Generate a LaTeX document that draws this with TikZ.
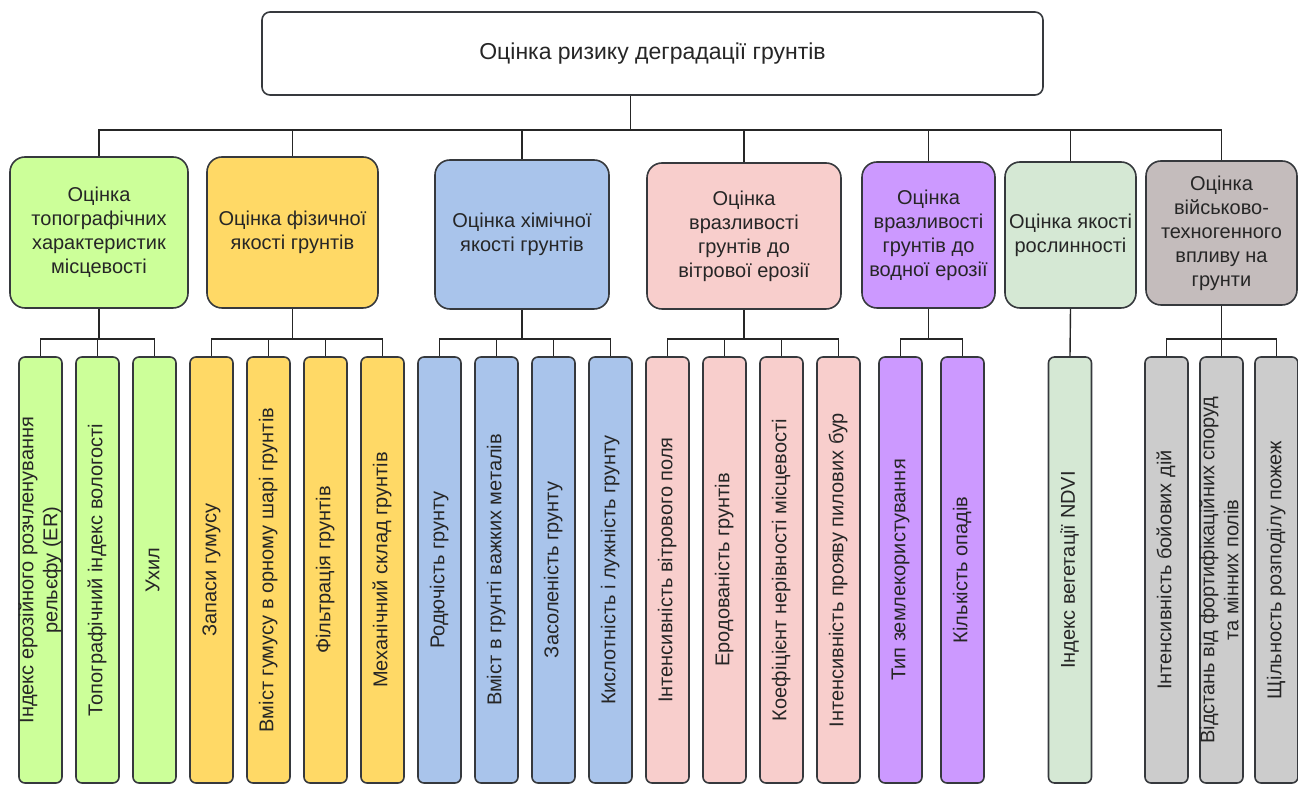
\documentclass[tikz,border=0pt]{standalone}
\usepackage{fontspec}
\setmainfont{Liberation Sans}
\usepackage{graphicx}
\usetikzlibrary{positioning}

\definecolor{topogreen}{RGB}{204,255,153}
\definecolor{physyellow}{RGB}{255,217,102}
\definecolor{chemblue}{RGB}{169,196,235}
\definecolor{windpink}{RGB}{248,206,204}
\definecolor{waterviolet}{RGB}{204,153,255}
\definecolor{vegmint}{RGB}{213,232,212}
\definecolor{milgrey}{RGB}{196,188,188}
\definecolor{factgrey}{RGB}{204,204,204}
\definecolor{edgegrey}{RGB}{54,57,61}

% vertical text for the factor columns
\newcommand{\vtext}[1]{\makebox[0pt]{\rotatebox{90}{\begin{tabular}{@{}c@{}}#1\end{tabular}}}}

\tikzset{
    rootbox/.style={
        draw=edgegrey, line width=0.8pt, rounded corners=4pt, fill=white,
        minimum width=390.5pt, minimum height=41.5pt,
        font=\fontsize{11.5}{14}\selectfont
    },
    critbox/.style={ % #1 = fill colour
        draw=edgegrey, line width=0.8pt, rounded corners=7.5pt, fill=#1,
        align=center, inner sep=2pt
    },
    factor/.style={
        draw=edgegrey, line width=0.8pt, rounded corners=3pt, fill=#1,
        minimum width=21.5pt, minimum height=213pt, inner sep=0pt
    },
    link/.style={line width=0.7pt, draw=black!85}
}

\begin{document}
\begin{tikzpicture}[
    x=0.5pt, y=-0.5pt,
    font=\fontsize{10}{12}\selectfont,
    text=black!85,
]
\useasboundingbox (0,0) rectangle (1298,785);

% ============ Root ============

\node[rootbox] (root) at (652.5,53.5) {Оцінка ризику деградації грунтів};

% ============ Criteria ============

\node[critbox=topogreen, minimum width=89pt, minimum height=75.5pt] (topo) at (99,232.5)
    {Оцінка\\топографічних\\характеристик\\місцевості};
\node[critbox=physyellow, minimum width=85.5pt, minimum height=75.5pt] (phys) at (292.5,232.5)
    {Оцінка фізичної\\якості грунтів};
\node[critbox=chemblue, minimum width=87pt, minimum height=74.5pt] (chem) at (522,234.5)
    {Оцінка хімічної\\якості грунтів};
\node[critbox=windpink, minimum width=97pt, minimum height=73pt] (wind) at (744,236)
    {Оцінка\\вразливості\\грунтів до\\вітрової ерозії};
\node[critbox=waterviolet, minimum width=66.5pt, minimum height=73pt] (water) at (928.5,235)
    {Оцінка\\вразливості\\грунтів до\\водної ерозії};
\node[critbox=vegmint, minimum width=65.5pt, minimum height=73pt] (veg) at (1070.5,235)
    {Оцінка якості\\рослинності};
\node[critbox=milgrey, minimum width=75.5pt, minimum height=72pt] (mil) at (1221.5,233)
    {Оцінка\\військово-\\техногенного\\впливу на\\грунти};

% ============ Factors ============

\node[factor=topogreen] (t1) at (40.5,570) {\vtext{Індекс ерозійного розчленування\\рельєфу (ER)}};
\node[factor=topogreen, right=6.2pt of t1] (t2) {\vtext{Топографічний індекс вологості}};
\node[factor=topogreen, right=6.2pt of t2] (t3) {\vtext{Ухил}};

\node[factor=physyellow, right=6.2pt of t3] (p1) {\vtext{Запаси гумусу}};
\node[factor=physyellow, right=6.2pt of p1] (p2) {\vtext{Вміст гумусу в орному шарі грунтів}};
\node[factor=physyellow, right=6.2pt of p2] (p3) {\vtext{Фільтрація грунтів}};
\node[factor=physyellow, right=6.2pt of p3] (p4) {\vtext{Механічний склад грунтів}};

\node[factor=chemblue, right=6.2pt of p4] (c1) {\vtext{Родючість грунту}};
\node[factor=chemblue, right=6.2pt of c1] (c2) {\vtext{Вміст в грунті важких металів}};
\node[factor=chemblue, right=6.2pt of c2] (c3) {\vtext{Засоленість грунту}};
\node[factor=chemblue, right=6.2pt of c3] (c4) {\vtext{Кислотність і лужність грунту}};

\node[factor=windpink, right=6.2pt of c4] (w1) {\vtext{Інтенсивність вітрового поля}};
\node[factor=windpink, right=6.2pt of w1] (w2) {\vtext{Еродованість грунтів}};
\node[factor=windpink, right=6.2pt of w2] (w3) {\vtext{Коефіцієнт нерівності місцевості}};
\node[factor=windpink, right=6.2pt of w3] (w4) {\vtext{Інтенсивність прояву пилових бур}};

\node[factor=waterviolet] (v1) at (900.5,570) {\vtext{Тип землекористування}};
\node[factor=waterviolet, right=8.7pt of v1] (v2) {\vtext{Кількість опадів}};

\node[factor=vegmint] (n1) at (1070,570) {\vtext{Індекс вегетації NDVI}};

\node[factor=factgrey] (m1) at (1166.5,570) {\vtext{Інтенсивність бойових дій}};
\node[factor=factgrey, right=5.2pt of m1] (m2) {\vtext{Відстань від фортифікаційних споруд\\та мінних полів}};
\node[factor=factgrey, right=5.2pt of m2] (m3) {\vtext{Щільность розподілу пожеж}};

% ============ Connectors ============

\coordinate (bus) at (0,130);
\coordinate (subbus) at (0,339);

\draw[link] (topo.north) -- (topo.north |- bus) -| ([xshift=-11pt]root.south);
\draw[link] (phys.north) -- (phys.north |- bus) -| ([xshift=-11pt]root.south);
\draw[link] (chem.north) -- (chem.north |- bus) -| ([xshift=-11pt]root.south);
\draw[link] (wind.north) -- (wind.north |- bus) -| ([xshift=-11pt]root.south);
\draw[link] (water.north) -- (water.north |- bus) -| ([xshift=-11pt]root.south);
\draw[link] (veg.north) -- (veg.north |- bus) -| ([xshift=-11pt]root.south);
\draw[link] (mil.north) -- (mil.north |- bus) -| ([xshift=-11pt]root.south);

\draw[link] (t1.north) -- (t1.north |- subbus) -| (topo.south);
\draw[link] (t2.north) -- (t2.north |- subbus) -| (topo.south);
\draw[link] (t3.north) -- (t3.north |- subbus) -| (topo.south);

\draw[link] (p1.north) -- (p1.north |- subbus) -| (phys.south);
\draw[link] (p2.north) -- (p2.north |- subbus) -| (phys.south);
\draw[link] (p3.north) -- (p3.north |- subbus) -| (phys.south);
\draw[link] (p4.north) -- (p4.north |- subbus) -| (phys.south);

\draw[link] (c1.north) -- (c1.north |- subbus) -| (chem.south);
\draw[link] (c2.north) -- (c2.north |- subbus) -| (chem.south);
\draw[link] (c3.north) -- (c3.north |- subbus) -| (chem.south);
\draw[link] (c4.north) -- (c4.north |- subbus) -| (chem.south);

\draw[link] (w1.north) -- (w1.north |- subbus) -| (wind.south);
\draw[link] (w2.north) -- (w2.north |- subbus) -| (wind.south);
\draw[link] (w3.north) -- (w3.north |- subbus) -| (wind.south);
\draw[link] (w4.north) -- (w4.north |- subbus) -| (wind.south);

\draw[link] (v1.north) -- (v1.north |- subbus) -| (water.south);
\draw[link] (v2.north) -- (v2.north |- subbus) -| (water.south);

\draw[link] (n1.north) -- (veg.south);

\draw[link] (m1.north) -- (m1.north |- subbus) -| (mil.south);
\draw[link] (m2.north) -- (m2.north |- subbus) -| (mil.south);
\draw[link] (m3.north) -- (m3.north |- subbus) -| (mil.south);

\end{tikzpicture}
\end{document}
